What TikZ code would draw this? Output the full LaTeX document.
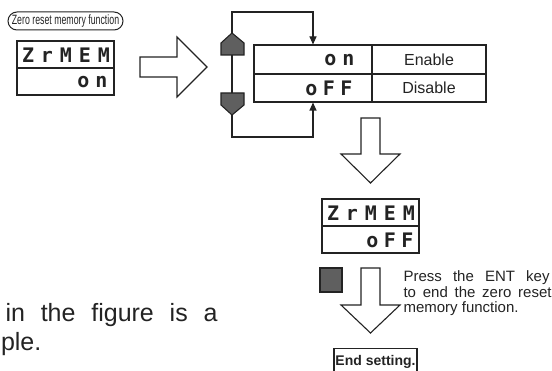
\documentclass[tikz,border=0pt]{standalone}
\usepackage{fontspec}
\setmainfont{Liberation Sans}
\newfontfamily\segfont{DejaVu Sans Mono}
\usetikzlibrary{arrows.meta}
\definecolor{ink}{RGB}{35,35,35}
\definecolor{keygray}{RGB}{95,95,95}
\newcommand\segtext[2]{\makebox[#1][s]{#2}}
\begin{document}
\begin{tikzpicture}[x=1pt,y=-1pt,line width=1.1pt,color=ink,
  seg/.style={font=\segfont\bfseries\fontsize{20}{20}\selectfont, inner sep=0pt},
  cellbox/.style={draw, inner sep=0pt},
  arr/.style={-{Triangle[length=8pt,width=7pt]}},
  block/.style={draw, fill=white, line join=miter},
  lbl/.style={font=\fontsize{16}{16}\selectfont},
  body/.style={anchor=base west, inner sep=0pt, font=\fontsize{15}{16}\selectfont},
  big/.style={anchor=base west, inner sep=0pt, font=\fontsize{25}{28}\selectfont},
  keybox/.style={draw, fill=keygray, inner sep=0pt}]
\useasboundingbox (0,0) rectangle (552,371);

% title label
\node[draw, line width=1pt, rounded corners=9pt, minimum width=115pt, minimum height=18pt, inner sep=0pt] (title) at (65.5,21)
  {\scalebox{0.65}[1]{\fontsize{13.5}{13.5}\selectfont Zero reset memory function}};

% display 1
\node[cellbox, minimum width=97pt, minimum height=27pt] (d1a) at (65.5,54.5) {};
\node[cellbox, minimum width=97pt, minimum height=27pt] (d1b) at (65.5,81.5) {};
\node[seg] (d1t) at (66,55) {\segtext{88pt}{Z\hfill r\hfill M\hfill E\hfill M}};
\node[seg, anchor=east] (d1v) at (108,82) {\segtext{30pt}{o\hfill n}};

% right block arrow
\draw[block] (140,57) -- (177,57) -- (177,37) -- (207,67) -- (177,97) -- (177,77) -- (140,77) -- cycle;

% up / down keys
\draw[fill=keygray] (221,43) -- (232,33) -- (244,43) -- (244,55) -- (221,55) -- cycle;
\coordinate (upTip) at (232,33);
\coordinate (upBase) at (232,55);
\draw[fill=keygray] (221,93) -- (244,93) -- (244,105) -- (232,115) -- (221,105) -- cycle;
\coordinate (dnTop) at (232,93);
\coordinate (dnTip) at (232,115);

% table
\node[cellbox, minimum width=118pt, minimum height=29pt] (ton) at (313,59.5) {};
\node[cellbox, lbl, minimum width=114pt, minimum height=29pt] (ten) at (429,59.5) {Enable};
\node[cellbox, minimum width=118pt, minimum height=28pt] (toff) at (313,88) {};
\node[cellbox, lbl, minimum width=114pt, minimum height=28pt] (tdis) at (429,88) {Disable};
\node[seg, anchor=east] (von) at (355,60) {\segtext{30pt}{o\hfill n}};
\node[seg, anchor=east] (voff) at (353,88) {\segtext{47pt}{o\hfill F\hfill F}};

% loop connectors
\coordinate (lTL) at (232,12);
\coordinate (lTR) at (313,12);
\coordinate (lBL) at (232,137);
\coordinate (lBR) at (313,137);
\draw[arr] (upTip) -- (lTL) -- (lTR) -- (ton.north);
\draw (upBase) -- (dnTop);
\draw[arr] (dnTip) -- (lBL) -- (lBR) -- (toff.south);

% down block arrow 1
\draw[block] (361,118) -- (380,118) -- (380,154) -- (400,154) -- (370.5,183) -- (341,154) -- (361,154) -- cycle;

% display 2
\node[cellbox, minimum width=97pt, minimum height=27pt] (d2a) at (370.5,212.5) {};
\node[cellbox, minimum width=97pt, minimum height=27pt] (d2b) at (370.5,239.5) {};
\node[seg] (d2t) at (371,213) {\segtext{88pt}{Z\hfill r\hfill M\hfill E\hfill M}};
\node[seg, anchor=east] (d2v) at (414,240) {\segtext{47pt}{o\hfill F\hfill F}};

% ENT key and down block arrow 2
\node[keybox, minimum width=22pt, minimum height=24pt] (ent) at (331,280) {};
\draw[block] (361,268) -- (380,268) -- (380,305) -- (400,305) -- (370.5,333) -- (341,305) -- (361,305) -- cycle;

\node[body] (p1) at (403,282) {\makebox[146pt][s]{Press the ENT key}};
\node[body] (p2) at (403,297.5) {\makebox[148pt][s]{to end the zero reset}};
\node[body] (p3) at (403,313) {memory function.};

% end setting
\node[draw, minimum width=83pt, minimum height=26pt, inner sep=0pt, anchor=north] (endbox) at (375.5,348) {};
\node[anchor=base, inner sep=0pt, font=\bfseries\fontsize{14}{14}\selectfont] (endtxt) at (375.5,366) {End setting.};

% left text fragment
\node[big] (t1) at (5,322) {\makebox[212pt][s]{in the figure is a}};
\node[big] (t2) at (0.5,351) {ple.};
\end{tikzpicture}
\end{document}
